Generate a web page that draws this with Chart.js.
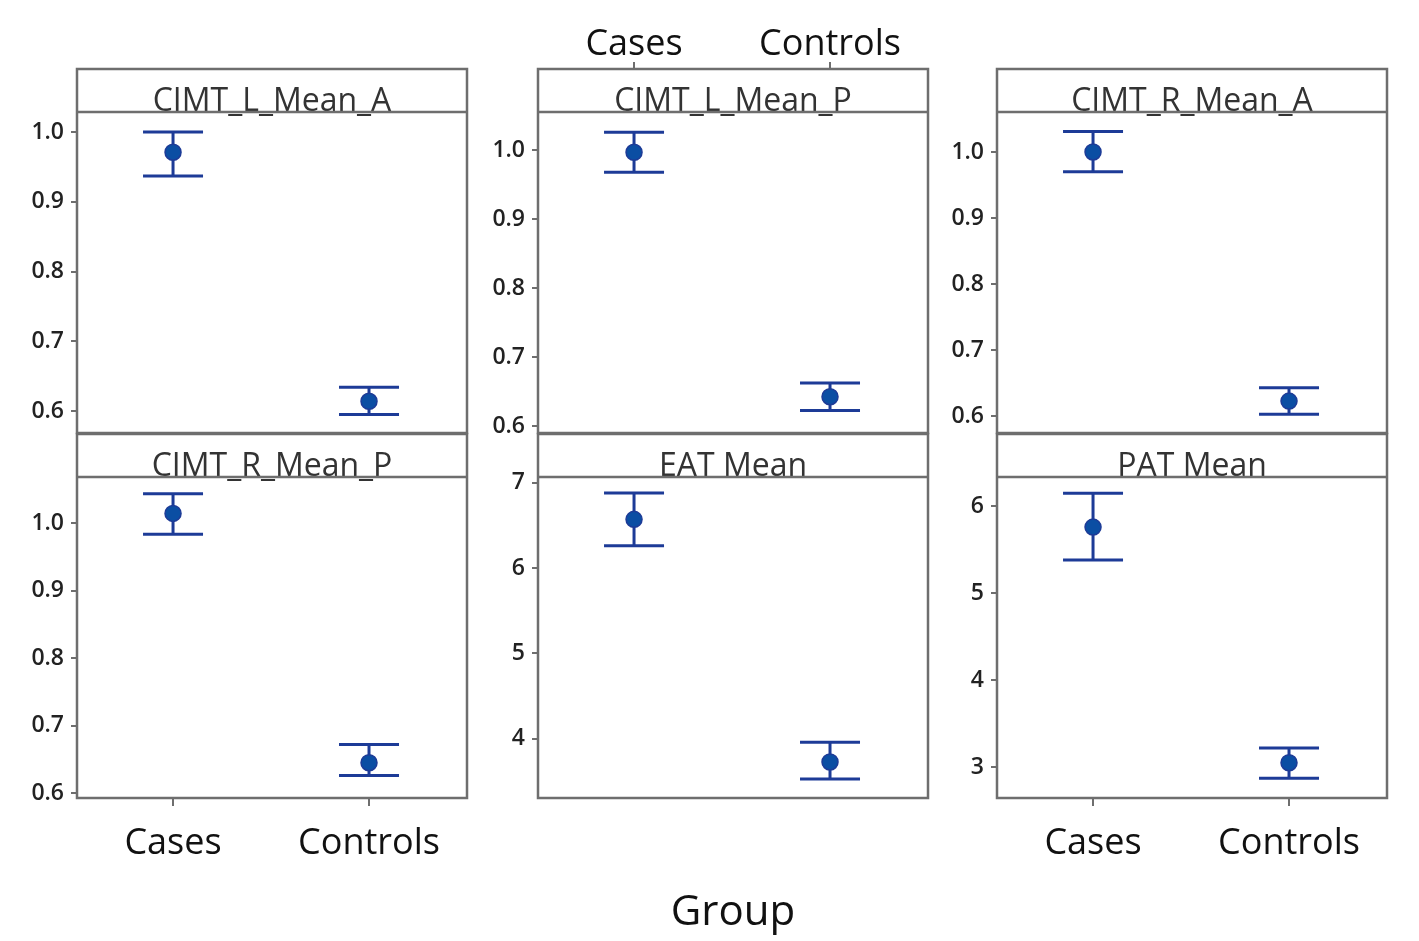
<!DOCTYPE html>
<html><head><meta charset="utf-8">
<script src="https://cdn.jsdelivr.net/npm/chart.js@4.4.1/dist/chart.umd.min.js"></script>
<style>
html,body{margin:0;padding:0;background:#fff;width:1419px;height:941px;overflow:hidden}
canvas{position:absolute}
</style></head><body>
<canvas id="c3"></canvas><canvas id="c4"></canvas><canvas id="c5"></canvas>
<canvas id="c0"></canvas><canvas id="c1"></canvas><canvas id="c2"></canvas>
<script>
// ---------- data ----------
const groups = ['Cases', 'Controls'];
const panelTitles = ['CIMT_L_Mean_A', 'CIMT_L_Mean_P', 'CIMT_R_Mean_A', 'CIMT_R_Mean_P', 'EAT Mean', 'PAT Mean'];
const casesMean     = [0.971, 0.997, 1.000, 1.015, 6.57, 5.76];
const casesLower    = [0.937, 0.968, 0.970, 0.984, 6.26, 5.38];
const casesUpper    = [1.000, 1.026, 1.031, 1.044, 6.88, 6.15];
const controlsMean  = [0.614, 0.643, 0.623, 0.645, 3.73, 3.05];
const controlsLower = [0.595, 0.623, 0.603, 0.626, 3.53, 2.87];
const controlsUpper = [0.634, 0.663, 0.643, 0.672, 3.96, 3.22];
const yMin = [0.5685, 0.5905, 0.5747, 0.5926, 3.308, 2.644];
const yMax = [1.0287, 1.0553, 1.0605, 1.069, 7.066, 6.336];
const yTickValues = [
  [0.6, 0.7, 0.8, 0.9, 1.0], [0.6, 0.7, 0.8, 0.9, 1.0], [0.6, 0.7, 0.8, 0.9, 1.0],
  [0.6, 0.7, 0.8, 0.9, 1.0], [4, 5, 6, 7], [3, 4, 5, 6]
];
const yTickLabels = [
  ['0.6', '0.7', '0.8', '0.9', '1.0'], ['0.6', '0.7', '0.8', '0.9', '1.0'], ['0.6', '0.7', '0.8', '0.9', '1.0'],
  ['0.6', '0.7', '0.8', '0.9', '1.0'], ['4', '5', '6', '7'], ['3', '4', '5', '6']
];
const xTickValues = [0, 1];
const xAxisTitle = 'Group';

// ---------- styling / layout ----------
const LINE = '#1d3b97';
const FILL = '#0b4ea3';
const FRAME = '#6e6e6e';
const FONT = "'Open Sans', 'Noto Sans', sans-serif";
const YAXIS_W = 77;
const layouts = [
  {left: 0,   top: 67,  w: 470, h: 385, pad: {top: 2, right: 3, bottom: 19, left: 0}, xMode: 'none'},
  {left: 461, top: 0,   w: 470, h: 452, pad: {top: 0, right: 3, bottom: 19, left: 0}, xMode: 'top'},
  {left: 920, top: 67,  w: 470, h: 385, pad: {top: 2, right: 3, bottom: 19, left: 0}, xMode: 'none'},
  {left: 0,   top: 432, w: 470, h: 438, pad: {top: 2, right: 3, bottom: 2, left: 0}, xMode: 'bottom'},
  {left: 461, top: 432, w: 470, h: 509, pad: {top: 2, right: 3, bottom: 0, left: 0}, xMode: 'title'},
  {left: 920, top: 432, w: 470, h: 438, pad: {top: 2, right: 3, bottom: 2, left: 0}, xMode: 'bottom'}
];

const framePlugin = {
  id: 'frame',
  afterDraw(chart) {
    const {ctx, chartArea: a} = chart;
    const top = chart.titleBlock.top;
    ctx.save();
    ctx.strokeStyle = FRAME;
    ctx.lineWidth = 2.5;
    ctx.strokeRect(a.left, top, a.right - a.left, a.bottom - top);
    ctx.beginPath();
    ctx.moveTo(a.left, a.top);
    ctx.lineTo(a.right, a.top);
    ctx.stroke();
    ctx.restore();
  }
};

function xScale(mode) {
  const base = {
    type: 'linear', min: -0.49, max: 1.5,
    afterBuildTicks: s => { s.ticks = xTickValues.map(v => ({value: v})); },
    ticks: {
      callback: v => groups[v],
      font: {family: FONT, size: 36}, color: '#111', padding: 16, maxRotation: 0, autoSkip: false
    },
    grid: {display: true, drawOnChartArea: false, drawTicks: true, tickLength: 8, color: FRAME, lineWidth: 2},
    border: {display: false}
  };
  if (mode === 'none') return Object.assign(base, {display: false});
  if (mode === 'top') {
    base.position = 'top';
    base.weight = 3000;
    base.grid.tickLength = 7;
    base.ticks.padding = -4;
    base.afterFit = s => { s.height = 69; s.paddingLeft = 0; s.paddingRight = 0; };
    return base;
  }
  if (mode === 'bottom') {
    base.position = 'bottom';
    base.afterFit = s => { s.height = 70; s.paddingLeft = 0; s.paddingRight = 0; };
    return base;
  }
  return {
    type: 'linear', min: -0.49, max: 1.5, position: 'bottom',
    ticks: {display: false},
    grid: {display: false, drawTicks: false},
    border: {display: false},
    title: {display: true, text: xAxisTitle, font: {family: FONT, size: 42}, color: '#111',
            padding: {top: 0, bottom: 3}},
    afterFit: s => { s.height = 143; }
  };
}

function makeChart(p) {
  const L = layouts[p];
  const cv = document.getElementById('c' + p);
  cv.width = L.w; cv.height = L.h;
  cv.style.left = L.left + 'px'; cv.style.top = L.top + 'px';
  const data = {
    datasets: [
      {data: [{x: 0, y: casesMean[p]}, {x: 1, y: controlsMean[p]}],
       pointRadius: 8, pointBackgroundColor: FILL, pointBorderColor: LINE, pointBorderWidth: 1.5, showLine: false},
      {data: [{x: 0, y: casesLower[p]}, {x: 0, y: casesUpper[p]}, {x: 1, y: controlsLower[p]}, {x: 1, y: controlsUpper[p]}],
       pointStyle: 'line', pointRadius: 30, pointBorderColor: LINE, pointBorderWidth: 3, showLine: false},
      {data: [{x: 0, y: casesLower[p]}, {x: 0, y: casesUpper[p]}],
       showLine: true, borderColor: LINE, borderWidth: 3, pointRadius: 0},
      {data: [{x: 1, y: controlsLower[p]}, {x: 1, y: controlsUpper[p]}],
       showLine: true, borderColor: LINE, borderWidth: 3, pointRadius: 0}
    ]
  };
  return new Chart(cv, {
    type: 'scatter',
    data,
    plugins: [framePlugin],
    options: {
      responsive: false, animation: false, events: [],
      devicePixelRatio: 1,
      layout: {padding: L.pad, autoPadding: false},
      plugins: {
        legend: {display: false}, tooltip: {enabled: false},
        title: {display: true, text: panelTitles[p], fullSize: false, position: 'top',
                font: {family: FONT, size: 32, weight: 'normal', lineHeight: 0.75}, color: '#333',
                padding: {top: 21, bottom: -2}}
      },
      scales: {
        x: xScale(L.xMode),
        y: {
          type: 'linear', min: yMin[p], max: yMax[p],
          afterBuildTicks: s => { s.ticks = yTickValues[p].map(v => ({value: v})); },
          afterFit: s => { s.width = YAXIS_W; s.paddingTop = 0; s.paddingBottom = 0; },
          ticks: {
            callback: v => yTickLabels[p][yTickValues[p].indexOf(v)],
            font: {family: FONT, size: 23, weight: '600'}, color: '#222', padding: 7
          },
          grid: {display: true, drawOnChartArea: false, drawTicks: true, tickLength: 6, color: FRAME, lineWidth: 2},
          border: {display: false}
        }
      }
    }
  });
}
for (let p = 0; p < 6; p++) makeChart(p);
</script>
</body></html>
